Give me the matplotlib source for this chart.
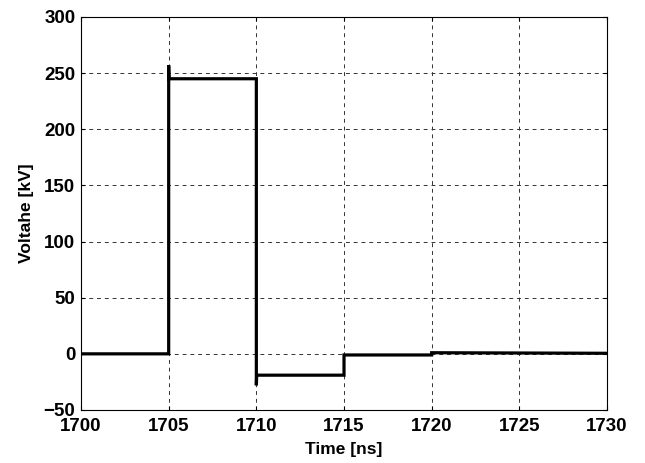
import matplotlib
matplotlib.use("Agg")
import matplotlib.pyplot as plt

# waveform (step shaped pulse)
time_ns = [1700, 1705, 1705, 1705.02, 1710, 1710, 1710.02, 1715, 1715, 1720, 1720, 1730]
voltage_kv = [0, 0, 257, 245, 245, -28, -19, -19, -1, -1, 1, 0.5]

xticks = [1700, 1705, 1710, 1715, 1720, 1725, 1730]
yticks = [-50, 0, 50, 100, 150, 200, 250, 300]

plt.rcParams['font.family'] = ['Liberation Sans', 'DejaVu Sans']
plt.rcParams['font.weight'] = 'bold'

fig = plt.figure(figsize=(6.45, 4.63), dpi=100)
ax = fig.add_axes([0.1256, 0.1145, 0.8155, 0.8488])

ax.plot(time_ns, voltage_kv, color='black', linewidth=2.3, solid_joinstyle='miter')

ax.set_xlim(1700, 1730)
ax.set_ylim(-50, 300)
ax.set_xticks(xticks)
ax.set_yticks(yticks)
ax.tick_params(direction='in', length=3, width=0.8, labelsize=13.5,
               top=True, right=True)
ax.tick_params(axis='x', pad=6)
ax.tick_params(axis='y', pad=4)
for lab in ax.get_xticklabels() + ax.get_yticklabels():
    lab.set_fontweight('bold')
ax.grid(True, color='#333333', linestyle=(0, (4, 4)), linewidth=0.7)
for s in ax.spines.values():
    s.set_linewidth(0.8)

ax.set_xlabel('Time [ns]', fontsize=12.5, fontweight='bold', labelpad=5)
ax.set_ylabel('Voltahe [kV]', fontsize=12.5, fontweight='bold', labelpad=7)

fig.savefig('out.png', dpi=100)
